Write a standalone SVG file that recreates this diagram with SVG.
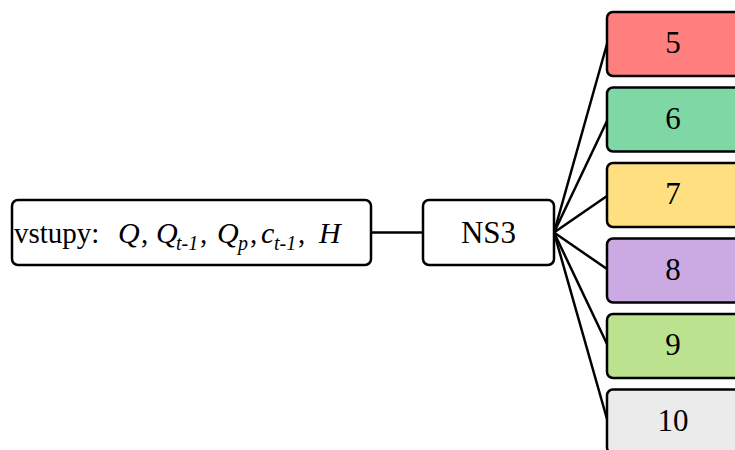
<svg xmlns="http://www.w3.org/2000/svg" width="735" height="450" viewBox="0 0 735 450">
<style>
.box{stroke:#000;stroke-width:2.5;}
.t{font-family:"Liberation Serif","Times New Roman",serif;font-size:31px;fill:#000;text-anchor:middle;}
.lt{font-family:"Liberation Serif","Times New Roman",serif;font-size:29px;fill:#000;}
.i{font-style:italic;font-size:30px;}
.sub{font-size:20px;font-style:italic;}
.c{stroke:#000;stroke-width:2.5;fill:none;}
</style>
<rect width="735" height="450" fill="#fff"/>
<g id="connectors">
<line class="c" x1="371" y1="232.5" x2="423" y2="232.5"/>
<line class="c" x1="554" y1="232.5" x2="607" y2="44"/>
<line class="c" x1="554" y1="232.5" x2="607" y2="121"/>
<line class="c" x1="554" y1="232.5" x2="607" y2="196"/>
<line class="c" x1="554" y1="232.5" x2="607" y2="269"/>
<line class="c" x1="554" y1="232.5" x2="607" y2="344"/>
<line class="c" x1="554" y1="232.5" x2="607" y2="419"/>
</g>
<g id="inputs">
<rect class="box" x="12" y="200" width="359" height="65" rx="6" fill="#fff"/>
<text class="lt" y="243"><tspan x="14">vstupy:</tspan><tspan class="i" x="118">Q</tspan><tspan x="141">,</tspan><tspan class="i" x="156">Q</tspan><tspan class="sub" x="176" y="250">t-1</tspan><tspan x="200" y="243">,</tspan><tspan class="i" x="217">Q</tspan><tspan class="sub" x="238" y="250">p</tspan><tspan x="250" y="243">,</tspan><tspan class="i" x="261">c</tspan><tspan class="sub" x="274" y="250">t-1</tspan><tspan x="298" y="243">,</tspan><tspan class="i" x="319">H</tspan></text>
</g>
<g id="ns3">
<rect class="box" x="423" y="200" width="131" height="65" rx="6" fill="#fff"/>
<text class="t" x="488.5" y="243">NS3</text>
</g>
<g id="n5">
<rect class="box" x="607" y="12" width="134" height="64" rx="6" fill="#ff7f7f"/>
<text class="t" x="673" y="53">5</text>
</g>
<g id="n6">
<rect class="box" x="607" y="87.5" width="134" height="64" rx="6" fill="#7fd7a5"/>
<text class="t" x="673" y="128.5">6</text>
</g>
<g id="n7">
<rect class="box" x="607" y="163" width="134" height="64" rx="6" fill="#ffdf80"/>
<text class="t" x="673" y="204">7</text>
</g>
<g id="n8">
<rect class="box" x="607" y="238.5" width="134" height="64" rx="6" fill="#cbaae4"/>
<text class="t" x="673" y="279.5">8</text>
</g>
<g id="n9">
<rect class="box" x="607" y="314" width="134" height="64" rx="6" fill="#bbe28f"/>
<text class="t" x="673" y="355">9</text>
</g>
<g id="n10">
<rect class="box" x="607" y="389.5" width="134" height="64" rx="6" fill="#ebebeb"/>
<text class="t" x="673" y="430.5">10</text>
</g>
</svg>
